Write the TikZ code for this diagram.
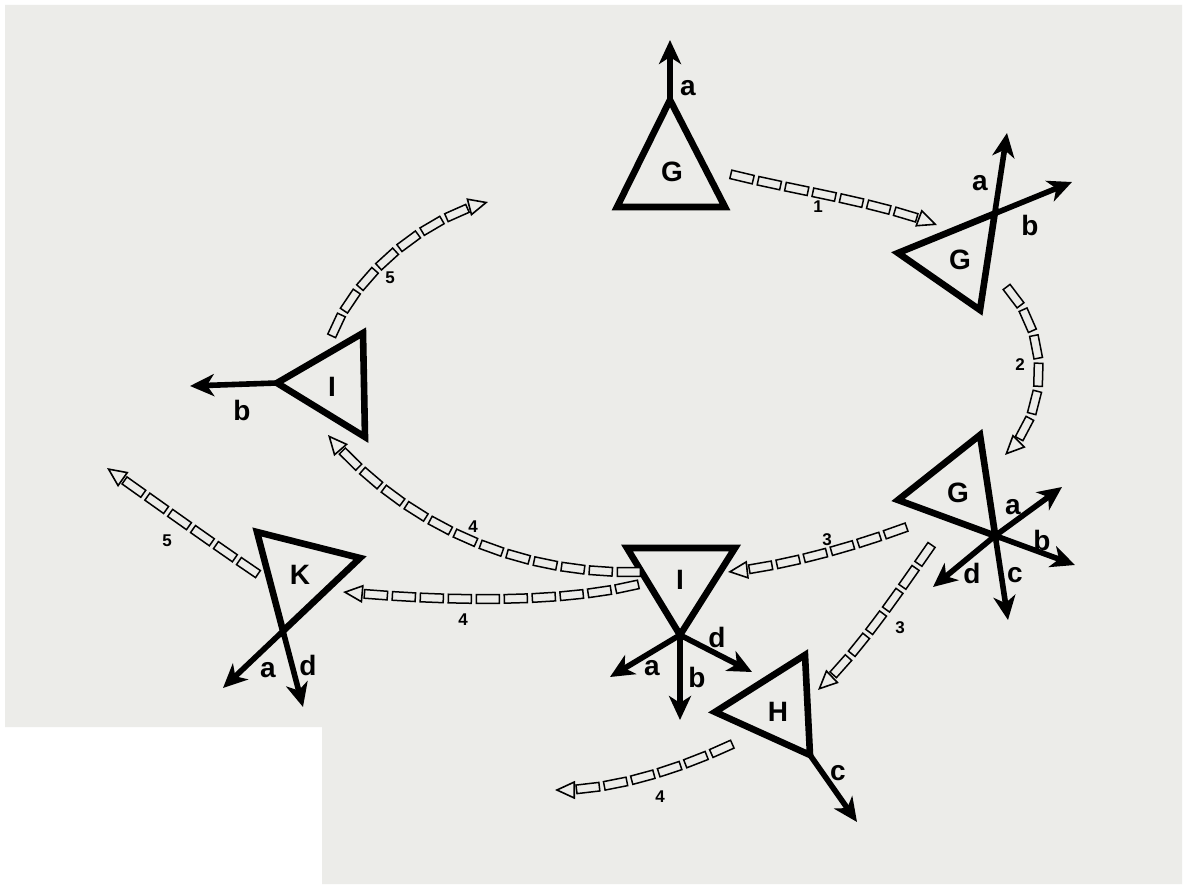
\documentclass[tikz,border=0pt]{standalone}
\usepackage{fontspec}
\setmainfont{Liberation Sans}
\usetikzlibrary{arrows.meta,decorations.markings,intersections}
\definecolor{paper}{RGB}{236,236,233}
\tikzset{
 tri/.style={draw=black, line width=3.3pt, line join=miter},
 vec/.style={draw=black, line width=2.8pt, -{Stealth[length=12pt,width=11pt,inset=3.5pt]}},
 lbl/.style={font=\bfseries\fontsize{14}{14}\selectfont, inner sep=0pt},
 num/.style={font=\bfseries\fontsize{8.5}{8.5}\selectfont, inner sep=0pt},
 link/.style={draw=black, line width=0.75pt, fill=paper, rectangle, minimum width=11.5pt, minimum height=4.3pt, inner sep=0pt, transform shape},
 % connector paths are written from the arrow head back to their start
 chain/.style={decoration={markings,
   mark=at position 0 with {\arrowreversed[line width=0.8pt,black]{Triangle[open,length=10pt,width=9pt]}},
   mark=between positions 16.5pt and 1 step 14pt with {\node[link]{};}}, decorate},
}
\begin{document}
\begin{tikzpicture}[x=0.5pt,y=-0.5pt]
\useasboundingbox (0,0) rectangle (1188,887);
\fill[white] (0,0) rectangle (1188,887);
\fill[paper] (5,5) -- (1182,5) -- (1182,884) -- (322,884) -- (322,727) -- (5,727) -- cycle;

% ---------- G (top) ----------
\coordinate (g1t) at (670,100); \coordinate (g1l) at (617,207); \coordinate (g1r) at (725,207);
\coordinate (g1a) at (670,40);
\draw[tri] (g1t) -- (g1l) -- (g1r) -- cycle;
\draw[vec] (g1t) -- (g1a);
\node[lbl] (g1G) at (672,172) {G};
\node[lbl] (g1al) at (688,88) {a};

% ---------- G (second) ----------
\coordinate (g2l) at (898,253); \coordinate (g2b) at (980,310);
\coordinate (g2a) at (1007,133); \coordinate (g2bt) at (1072,182);
\path[name path=g2p1] (g2l) -- (g2bt);
\path[name path=g2p2] (g2b) -- (g2a);
\path[name intersections={of=g2p1 and g2p2, by=g2t}];
\draw[tri] (g2l) -- (g2t) -- (g2b) -- cycle;
\draw[vec] (g2t) -- (g2bt);
\draw[vec] (g2t) -- (g2a);
\node[lbl] (g2G) at (960,260) {G};
\node[lbl] (g2al) at (980,183) {a};
\node[lbl] (g2bl) at (1030,225) {b};

% ---------- G (third) ----------
\coordinate (g3l) at (898,500); \coordinate (g3t) at (980,435);
\coordinate (g3a) at (1062,487); \coordinate (g3b) at (1075,565);
\coordinate (g3cc) at (1008,620); \coordinate (g3d) at (933,587);
\path[name path=g3p1] (g3l) -- (g3b);
\path[name path=g3p2] (g3t) -- (g3cc);
\path[name intersections={of=g3p1 and g3p2, by=g3c}];
\draw[tri] (g3l) -- (g3t) -- (g3c) -- cycle;
\draw[vec] (g3c) -- (g3b);
\draw[vec] (g3c) -- (g3cc);
\draw[vec] (g3c) -- (g3a);
\draw[vec] (g3c) -- (g3d);
\node[lbl] (g3G) at (958,493) {G};
\node[lbl] (g3al) at (1013,507) {a};
\node[lbl] (g3bl) at (1042,540) {b};
\node[lbl] (g3cl) at (1015,575) {c};
\node[lbl] (g3dl) at (972,573) {d};

% ---------- I (bottom, inverted) ----------
\coordinate (i1l) at (627,548); \coordinate (i1r) at (735,548); \coordinate (i1b) at (680,635);
\coordinate (i1a) at (610,677); \coordinate (i1bb) at (680,720); \coordinate (i1d) at (752,672);
\draw[tri] (i1l) -- (i1r) -- (i1b) -- cycle;
\draw[vec] (i1b) -- (i1a);
\draw[vec] (i1b) -- (i1bb);
\draw[vec] (i1b) -- (i1d);
\node[lbl] (i1I) at (680,580) {I};
\node[lbl] (i1al) at (652,668) {a};
\node[lbl] (i1bl) at (697,677) {b};
\node[lbl] (i1dl) at (717,637) {d};

% ---------- H ----------
\coordinate (hl) at (715,712); \coordinate (ht) at (805,655); \coordinate (hb) at (810,755);
\coordinate (hc) at (857,822);
\draw[tri] (hl) -- (ht) -- (hb) -- cycle;
\draw[vec] (hb) -- (hc);
\node[lbl] (hH) at (778,712) {H};
\node[lbl] (hcl) at (838,773) {c};

% ---------- I (left) ----------
\coordinate (i2l) at (277,383); \coordinate (i2t) at (363,333); \coordinate (i2b) at (365,437);
\coordinate (i2bt) at (190,386);
\draw[tri] (i2l) -- (i2t) -- (i2b) -- cycle;
\draw[vec] (i2l) -- (i2bt);
\node[lbl] (i2I) at (332,387) {I};
\node[lbl] (i2bl) at (242,410) {b};

% ---------- K ----------
\coordinate (kl) at (257,532); \coordinate (kr) at (360,558);
\coordinate (ka) at (223,688); \coordinate (kd) at (303,707);
\path[name path=kp1] (kl) -- (kd);
\path[name path=kp2] (kr) -- (ka);
\path[name intersections={of=kp1 and kp2, by=kb}];
\draw[tri] (kl) -- (kr) -- (kb) -- cycle;
\draw[vec] (kb) -- (kd);
\draw[vec] (kb) -- (ka);
\node[lbl] (kK) at (300,575) {K};
\node[lbl] (kal) at (268,670) {a};
\node[lbl] (kdl) at (308,665) {d};

% ---------- connectors (drawn from arrow head back to start) ----------
\coordinate (c1s) at (722,172); \coordinate (c1e) at (937,225);
\path[chain] (c1e) .. controls (870,200) and (790,190) .. (c1s);
\node[num] (n1) at (818,207) {1};

\coordinate (c2s) at (1002,283); \coordinate (c2e) at (1005,455);
\path[chain] (c2e) .. controls (1050,410) and (1050,330) .. (c2s);
\node[num] (n2) at (1020,365) {2};

\coordinate (c3s) at (920,522); \coordinate (c3e) at (728,572);
\path[chain] (c3e) .. controls (790,565) and (860,545) .. (c3s);
\node[num] (n3a) at (827,540) {3};

\coordinate (c3bs) at (935,540); \coordinate (c3be) at (818,690);
\path[chain] (c3be) .. controls (860,650) and (900,590) .. (c3bs);
\node[num] (n3b) at (900,628) {3};

\coordinate (c4hs) at (745,738); \coordinate (c4he) at (555,790);
\path[chain] (c4he) .. controls (620,790) and (690,765) .. (c4hs);
\node[num] (n4h) at (660,797) {4};

\coordinate (c4as) at (630,572); \coordinate (c4ae) at (328,435);
\path[chain] (c4ae) .. controls (410,530) and (520,572) .. (c4as);
\node[num] (n4a) at (473,527) {4};

\coordinate (c4bs) at (635,585); \coordinate (c4be) at (343,592);
\path[chain] (c4be) .. controls (430,600) and (550,605) .. (c4bs);
\node[num] (n4b) at (463,620) {4};

\coordinate (c5as) at (330,342); \coordinate (c5ae) at (488,202);
\path[chain] (c5ae) .. controls (420,220) and (350,280) .. (c5as);
\node[num] (n5a) at (390,278) {5};

\coordinate (c5bs) at (252,570); \coordinate (c5be) at (107,468);
\path[chain] (c5be) .. controls (155,502) and (205,538) .. (c5bs);
\node[num] (n5b) at (167,541) {5};
\end{tikzpicture}
\end{document}
